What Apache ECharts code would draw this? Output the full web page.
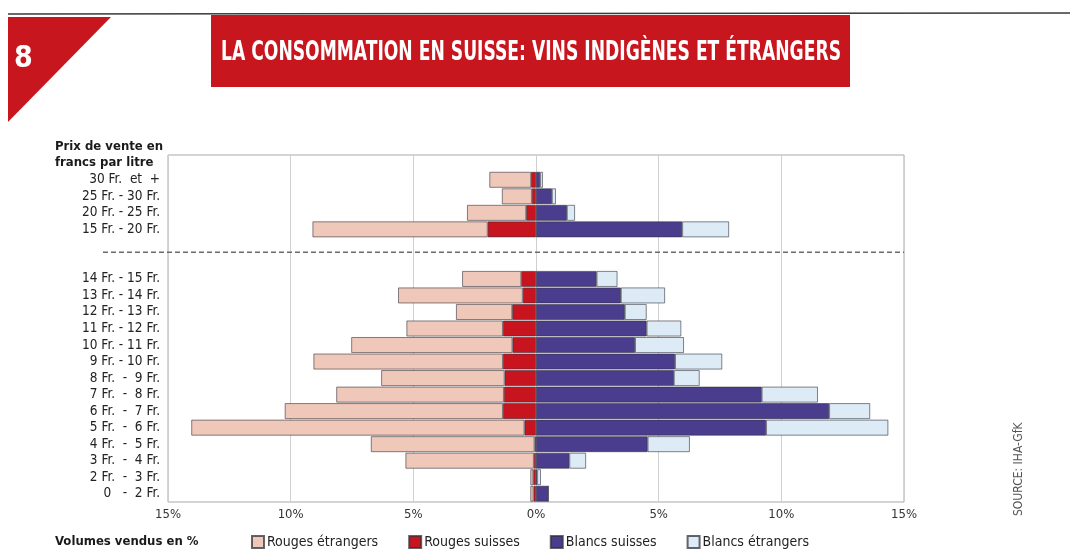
<!DOCTYPE html>
<html>
<head>
<meta charset="utf-8">
<script src="https://cdn.jsdelivr.net/npm/echarts@6/dist/echarts.min.js"></script>
<style>
  html, body { margin: 0; padding: 0; background: #ffffff; }
  #chart { width: 1070px; height: 554px; }
</style>
</head>
<body>
<div id="chart"></div>
<script>
// Price bands, top to bottom ('' = spacer rows around the 15 Fr. divide)
const categories = [
  '', '30 Fr.  et  +', '25 Fr. - 30 Fr.', '20 Fr. - 25 Fr.', '15 Fr. - 20 Fr.',
  '', '',
  '14 Fr. - 15 Fr.', '13 Fr. - 14 Fr.', '12 Fr. - 13 Fr.', '11 Fr. - 12 Fr.',
  '10 Fr. - 11 Fr.', '9 Fr. - 10 Fr.', '8 Fr.  -  9 Fr.', '7 Fr.  -  8 Fr.',
  '6 Fr.  -  7 Fr.', '5 Fr.  -  6 Fr.', '4 Fr.  -  5 Fr.', '3 Fr.  -  4 Fr.',
  '2 Fr.  -  3 Fr.', '0   -  2 Fr.'
];

// Share of volume sold (%), same order as categories
const rougesEtrangers = [null, 1.7, 1.22, 2.41, 7.14, null, null,
  2.41, 5.08, 2.29, 3.93, 6.57, 7.72, 5.03, 6.83, 8.89, 13.58, 6.67, 5.23, 0.12, 0.13];
const rougesSuisses = [null, 0.2, 0.17, 0.4, 1.97, null, null,
  0.6, 0.54, 0.97, 1.35, 0.96, 1.35, 1.28, 1.31, 1.35, 0.47, 0.06, 0.09, 0.11, 0.1];
const blancsSuisses = [null, 0.17, 0.65, 1.26, 5.96, null, null,
  2.47, 3.46, 3.62, 4.51, 4.04, 5.67, 5.62, 9.2, 11.95, 9.38, 4.55, 1.36, 0.05, 0.5];
const blancsEtrangers = [null, 0.11, 0.16, 0.33, 1.91, null, null,
  0.85, 1.8, 0.89, 1.41, 1.99, 1.92, 1.05, 2.29, 1.67, 4.98, 1.72, 0.68, 0.15, 0];

const xTicks = [-15, -10, -5, 0, 5, 10, 15];
const legendOrder = ['Rouges étrangers', 'Rouges suisses', 'Blancs suisses', 'Blancs étrangers'];

const TITLE = 'LA CONSOMMATION EN SUISSE: VINS INDIGÈNES ET ÉTRANGERS';
const FONT = '"Liberation Sans Narrow", "DejaVu Sans Condensed", "Roboto", sans-serif';
const TITLE_FONT = 'bold 27px "DejaVu Sans Condensed", "Roboto", sans-serif';
const COLORS = {
  'Rouges étrangers': '#f0c8ba',
  'Rouges suisses': '#c8141f',
  'Blancs suisses': '#4a3d8d',
  'Blancs étrangers': '#dcebf6'
};

const neg = arr => arr.map(v => (v == null ? null : -v));

// Title is set in a condensed cut: squeeze it horizontally to the banner's text width
const measureCtx = document.createElement('canvas').getContext('2d');
measureCtx.font = TITLE_FONT;
const titleScale = Math.min(1, 620 / measureCtx.measureText(TITLE).width);

function barSeries(name, data) {
  return {
    name: name,
    type: 'bar',
    stack: 'volume',
    data: data,
    barCategoryGap: '4%',
    itemStyle: {
      color: COLORS[name],
      borderColor: 'rgba(50,50,60,0.75)',
      borderWidth: 0.8
    },
    emphasis: { disabled: true }
  };
}

const chart = echarts.init(document.getElementById('chart'), null, { renderer: 'canvas' });

chart.setOption({
  animation: false,
  backgroundColor: '#ffffff',
  textStyle: { fontFamily: FONT },
  grid: {
    left: 168, right: 166, top: 155, bottom: 52,
    show: true, borderColor: '#a8a8a8', borderWidth: 1, containLabel: false
  },
  xAxis: {
    type: 'value',
    min: -15, max: 15, interval: 5,
    axisLine: { show: false },
    axisTick: { show: false },
    splitLine: { show: true, lineStyle: { color: '#cfcfcf', width: 1 } },
    axisLabel: {
      margin: 6,
      fontSize: 13,
      color: '#333',
      fontFamily: FONT,
      formatter: v => Math.abs(v) + '%',
      customValues: xTicks
    }
  },
  yAxis: {
    type: 'category',
    inverse: true,
    data: categories,
    axisLine: { show: false },
    axisTick: { show: false },
    splitLine: { show: false },
    axisLabel: {
      margin: 8,
      fontSize: 13.5,
      color: '#222',
      fontFamily: FONT,
      interval: 0
    }
  },
  legend: {
    data: legendOrder,
    left: 246,
    top: 530,
    icon: 'rect',
    itemWidth: 12,
    itemHeight: 12,
    itemGap: 30,
    textStyle: { fontSize: 14, color: '#222', fontFamily: FONT, padding: [0, 0, 0, -2] },
    selectedMode: false
  },
  series: [
    barSeries('Rouges suisses', neg(rougesSuisses)),
    barSeries('Rouges étrangers', neg(rougesEtrangers)),
    barSeries('Blancs suisses', blancsSuisses),
    barSeries('Blancs étrangers', blancsEtrangers)
  ],
  graphic: [
    // page edge line
    { type: 'line', shape: { x1: 8, y1: 14, x2: 1070, y2: 13 }, style: { stroke: '#3a3a3a', lineWidth: 1.5 }, z: 1 },
    // chapter corner
    { type: 'polygon', shape: { points: [[8, 17], [111, 17], [8, 122]] }, style: { fill: '#c8161f' }, z: 2 },
    { type: 'text', left: 14, top: 44, style: { text: '8', fill: '#ffffff', font: 'bold 30px "DejaVu Sans Condensed", sans-serif' }, z: 3 },
    // title banner
    { type: 'rect', shape: { x: 211, y: 15, width: 639, height: 72 }, style: { fill: '#c8161f' }, z: 2 },
    {
      type: 'text', x: 531, y: 53, z: 3,
      scaleX: titleScale, originX: 0, originY: 0,
      style: {
        text: TITLE,
        fill: '#ffffff', font: TITLE_FONT,
        align: 'center', verticalAlign: 'middle'
      }
    },
    // axis headings
    {
      type: 'text', left: 55, top: 139,
      style: { text: 'Prix de vente en\nfrancs par litre', fill: '#1a1a1a', font: 'bold 13px ' + FONT, lineHeight: 16 }
    },
    {
      type: 'text', left: 55, top: 535,
      style: { text: 'Volumes vendus en %', fill: '#1a1a1a', font: 'bold 13px ' + FONT }
    },
    {
      type: 'text', x: 1019, y: 516, rotation: Math.PI / 2,
      style: { text: 'SOURCE: IHA-GfK', fill: '#555', font: '12px ' + FONT, verticalAlign: 'middle' }
    }
  ]
});

// Dashed divider between the 15 Fr.+ bands and the lower bands
const yA = chart.convertToPixel({ yAxisIndex: 0 }, 5);
const yB = chart.convertToPixel({ yAxisIndex: 0 }, 6);
const yMid = (yA + yB) / 2 - 2;
const xEnd = chart.convertToPixel({ xAxisIndex: 0 }, 15);
chart.setOption({
  graphic: [{
    type: 'line', id: 'divider', z: 5,
    shape: { x1: 103, y1: yMid, x2: xEnd, y2: yMid },
    style: { stroke: '#6a6a6a', lineWidth: 1.5, lineDash: [5, 3] }
  }]
});
</script>
</body>
</html>
